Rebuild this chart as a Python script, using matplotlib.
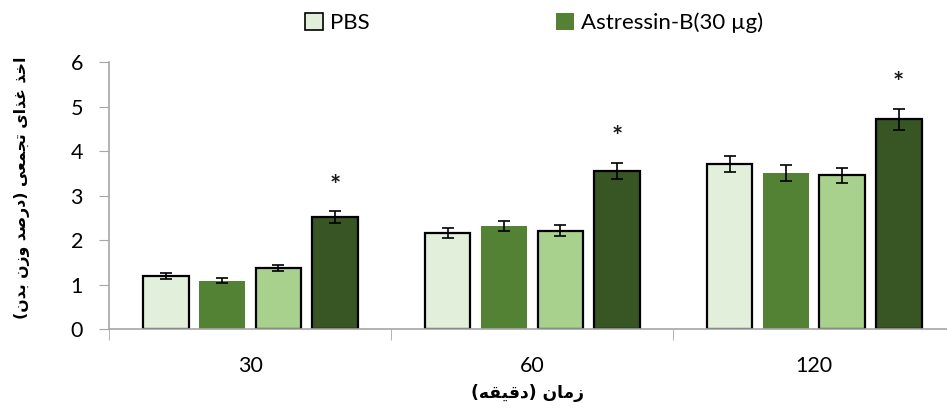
import numpy as np
import matplotlib.pyplot as plt
from matplotlib.patches import Patch

# data
groups = ['30', '60', '120']
pbs = [1.20, 2.17, 3.71]
astressin = [1.09, 2.32, 3.52]
series_3 = [1.385, 2.22, 3.46]
series_4 = [2.52, 3.56, 4.72]
err_pbs = [0.06, 0.11, 0.185]
err_astressin = [0.06, 0.12, 0.175]
err_series_3 = [0.07, 0.115, 0.175]
err_series_4 = [0.13, 0.18, 0.235]
stars = ['*', '*', '*']

ylabel_text = 'اخذ غذای تجمعی (درصد وزن بدن)'
xlabel_text = 'زمان (دقیقه)'

# arabic letter -> (isolated, final, initial, medial), matplotlib does no shaping
forms = {
    '\u0627': ('\uFE8D', '\uFE8E', None, None),
    '\u0628': ('\uFE8F', '\uFE90', '\uFE91', '\uFE92'),
    '\u062A': ('\uFE95', '\uFE96', '\uFE97', '\uFE98'),
    '\u062C': ('\uFE9D', '\uFE9E', '\uFE9F', '\uFEA0'),
    '\u062E': ('\uFEA5', '\uFEA6', '\uFEA7', '\uFEA8'),
    '\u062F': ('\uFEA9', '\uFEAA', None, None),
    '\u0630': ('\uFEAB', '\uFEAC', None, None),
    '\u0631': ('\uFEAD', '\uFEAE', None, None),
    '\u0632': ('\uFEAF', '\uFEB0', None, None),
    '\u0635': ('\uFEB9', '\uFEBA', '\uFEBB', '\uFEBC'),
    '\u0639': ('\uFEC9', '\uFECA', '\uFECB', '\uFECC'),
    '\u063A': ('\uFECD', '\uFECE', '\uFECF', '\uFED0'),
    '\u0642': ('\uFED5', '\uFED6', '\uFED7', '\uFED8'),
    '\u0645': ('\uFEE1', '\uFEE2', '\uFEE3', '\uFEE4'),
    '\u0646': ('\uFEE5', '\uFEE6', '\uFEE7', '\uFEE8'),
    '\u0647': ('\uFEE9', '\uFEEA', '\uFEEB', '\uFEEC'),
    '\u0648': ('\uFEED', '\uFEEE', None, None),
    '\u06CC': ('\uFEEF', '\uFEF0', '\uFEF3', '\uFEF4'),
}

def shape(text):
    out = []
    for i, ch in enumerate(text):
        if ch not in forms:
            out.append(ch)
            continue
        prev = text[i - 1] if i > 0 else ''
        nxt = text[i + 1] if i + 1 < len(text) else ''
        join_prev = prev in forms and forms[prev][2] is not None
        join_next = nxt in forms and forms[ch][2] is not None
        iso, fin, ini, med = forms[ch]
        if join_prev and join_next:
            out.append(med)
        elif join_prev:
            out.append(fin)
        elif join_next:
            out.append(ini)
        else:
            out.append(iso)
    swap = {'(': ')', ')': '('}
    return ''.join(swap.get(c, c) for c in reversed(out))

plt.rcParams['font.family'] = ['Lato', 'DejaVu Sans']

fig = plt.figure(figsize=(9.47, 4.16), dpi=100)
ax = fig.add_axes([0.1154, 0.2084, 0.8931, 0.6416])

x = np.arange(len(groups))
w = 0.162
colors = ['#E2EFDA', '#548235', '#A9D18E', '#375623']
edges = ['black', 'none', 'black', 'black']
values = [pbs, astressin, series_3, series_4]
errs = [err_pbs, err_astressin, err_series_3, err_series_4]
offsets = [-0.3, -0.1, 0.1, 0.3]

for vals, e, c, ec, off in zip(values, errs, colors, edges, offsets):
    ax.bar(x + off, vals, w, color=c, edgecolor=ec, linewidth=1.6, zorder=2)
    ax.errorbar(x + off, vals, yerr=e, fmt='none', ecolor='black',
                elinewidth=1.2, capsize=4, capthick=1.2, zorder=3)

for i, s in enumerate(stars):
    ax.text(x[i] + 0.3, series_4[i] + err_series_4[i] + 0.58, s,
            ha='center', va='center', fontsize=19, fontweight='bold',
            color='#1a1a1a')

ax.set_xlim(-0.5, 2.5)
ax.set_ylim(0, 6)
ax.set_yticks(range(7))
ax.tick_params(axis='y', length=7, color='#A6A6A6', labelsize=15.5, pad=12)
ax.set_xticks(x)
ax.set_xticklabels(groups)
ax.tick_params(axis='x', which='major', length=0, labelsize=15.5, pad=19)
ax.set_xticks([-0.5, 0.5, 1.5], minor=True)
ax.tick_params(axis='x', which='minor', length=8, color='#A6A6A6')

for side in ['top', 'right']:
    ax.spines[side].set_visible(False)
for side in ['left', 'bottom']:
    ax.spines[side].set_color('#A6A6A6')
    ax.spines[side].set_linewidth(1.2)
    ax.spines[side].set_zorder(4)

handles = [Patch(facecolor=colors[0], edgecolor='black', linewidth=1.2),
           Patch(facecolor=colors[1], edgecolor='none')]
fig.legend(handles, ['PBS', 'Astressin-B(30 µg)'], ncol=2, loc='center',
           bbox_to_anchor=(534 / 947, 0.945), frameon=False, fontsize=16,
           handlelength=0.8, handleheight=0.8, handletextpad=0.3,
           columnspacing=8.4)

fig.text(0.0232, 0.548, shape(ylabel_text), rotation=90, ha='center',
         va='center', fontsize=11.3, fontweight='bold', family=['DejaVu Sans'])
fig.text(0.5565, 0.055, shape(xlabel_text), ha='center', va='center',
         fontsize=12.3, fontweight='bold', family=['DejaVu Sans'])

fig.savefig('out.png', dpi=100)
